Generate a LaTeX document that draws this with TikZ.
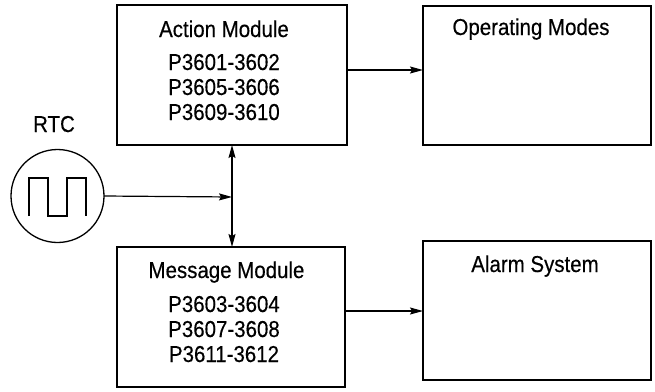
\documentclass[tikz,border=0pt]{standalone}
\usepackage{fontspec}
\setmainfont{Liberation Sans}[FakeStretch=0.89,FakeBold=0.4]
\usetikzlibrary{arrows.meta}
\begin{document}
\begin{tikzpicture}[x=1pt,y=-1pt,
  every node/.style={inner sep=0pt,outer sep=0pt},
  box/.style={draw,line width=1.3pt,anchor=north west},
  txt/.style={anchor=base,font=\fontsize{23}{27}\selectfont},
  conn/.style={line width=1.2pt,-{Stealth[length=13pt,width=7pt,inset=2pt]}},
  dconn/.style={line width=1.2pt,{Stealth[length=13pt,width=7pt,inset=2pt]}-{Stealth[length=13pt,width=7pt,inset=2pt]}}]
\useasboundingbox (0,0) rectangle (655,391);
% boxes
\node[box,minimum width=230pt,minimum height=140pt] (action) at (117,5) {};
\node[box,minimum width=228pt,minimum height=139pt] (opmodes) at (423,6) {};
\node[box,minimum width=228pt,minimum height=140pt] (message) at (117,247) {};
\node[box,minimum width=228pt,minimum height=139pt] (alarm) at (423,241) {};
% texts
\node[txt] (actt) at (224,37) {Action Module};
\node[txt] (act1) at (224,70) {P3601-3602};
\node[txt] (act2) at (224,95) {P3605-3606};
\node[txt] (act3) at (224,120) {P3609-3610};
\node[txt] (opt) at (531,35) {Operating Modes};
\node[txt] (mest) at (226.5,278) {Message Module};
\node[txt] (mes1) at (224,312) {P3603-3604};
\node[txt] (mes2) at (224,337) {P3607-3608};
\node[txt] (mes3) at (224,362) {P3611-3612};
\node[txt] (alt) at (535,272) {Alarm System};
\node[txt] (rtct) at (54,132) {RTC};
% RTC circle
\node[circle,draw,line width=1.3pt,minimum size=93pt] (rtc) at (57.5,196) {};
\draw[line width=1.1pt] (29,216) -- (29,178) -- (48,178) -- (48,216) -- (67,216) -- (67,178) -- (86,178) -- (86,216);
% connectors
\coordinate (bus) at (232,197);
\draw[conn] (rtc.east) -- (bus);
\draw[dconn] (bus |- action.south) -- (bus |- message.north);
\draw[conn] (action.east |- 0,70) -- (opmodes.west |- 0,70);
\draw[conn] (message.east |- 0,311) -- (alarm.west |- 0,311);
\end{tikzpicture}
\end{document}
